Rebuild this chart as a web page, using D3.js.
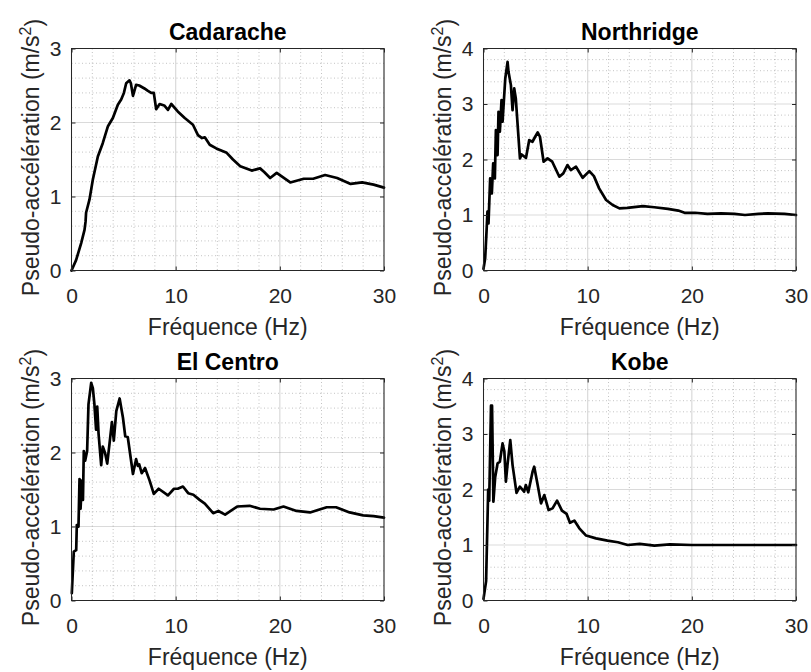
<!DOCTYPE html>
<html><head><meta charset="utf-8">
<script src="https://cdn.jsdelivr.net/npm/d3@7"></script>
<style>
body{margin:0;background:#fff}
svg{display:block}
text{font-family:"Liberation Sans",Arial,Helvetica,sans-serif}
</style>
</head><body>
<svg id="c" width="811" height="672"></svg>
<script>
// ---------- data ----------
const titles = ["Cadarache", "Northridge", "El Centro", "Kobe"];
const xTicks = [0, 10, 20, 30];
const yTicks3 = [0, 1, 2, 3];
const yTicks4 = [0, 1, 2, 3, 4];
const xLabelText = "Fréquence (Hz)";
const yLabelText = "Pseudo-accélération (m/s";
const yLabelSup = "2";

const cadaracheF = [0,0.44,0.93,1.25,1.35,1.4,1.73,2.05,2.53,3.0,3.5,3.97,4.45,4.77,5.03,5.25,5.57,5.7,5.9,6.2,6.5,7.0,7.3,7.65,7.9,8.13,8.46,8.9,9.26,9.58,10.2,10.87,11.66,12.14,12.53,12.8,13.27,13.9,14.9,15.5,16.2,17.3,18.1,18.5,19.07,19.7,21.0,22.3,23.2,24.35,25.5,26.8,27.9,29.0,30];
const cadaracheA = [0,0.14,0.37,0.55,0.66,0.78,0.96,1.23,1.54,1.72,1.95,2.06,2.24,2.31,2.40,2.53,2.57,2.53,2.36,2.51,2.50,2.46,2.43,2.40,2.40,2.18,2.25,2.23,2.17,2.25,2.15,2.06,1.97,1.83,1.79,1.80,1.70,1.65,1.59,1.50,1.41,1.35,1.38,1.33,1.25,1.32,1.19,1.24,1.24,1.29,1.25,1.17,1.19,1.16,1.12];

const northridgeF = [0,0.16,0.29,0.38,0.48,0.64,0.8,0.93,1.09,1.19,1.35,1.44,1.57,1.73,1.83,2.09,2.31,2.4,2.63,2.79,2.95,3.1,3.5,3.66,4.08,4.39,4.7,4.96,5.2,5.42,5.77,6.15,6.6,7.28,7.66,8.06,8.38,8.88,9.52,10.16,10.6,11.1,11.77,12.4,13.05,13.8,15.3,16.4,17.7,18.7,19.3,20.3,21.5,22.8,24.1,25.1,26.4,27.3,28.9,30];
const northridgeA = [0.03,0.22,0.70,1.06,0.85,1.66,1.39,1.93,1.66,2.53,2.08,2.86,2.50,3.07,2.68,3.46,3.76,3.58,3.34,2.89,3.28,3.10,2.02,2.09,2.03,2.35,2.32,2.41,2.49,2.41,1.96,2.02,1.96,1.69,1.75,1.90,1.81,1.87,1.67,1.79,1.70,1.48,1.27,1.18,1.12,1.13,1.16,1.14,1.11,1.08,1.04,1.04,1.02,1.03,1.02,1.00,1.02,1.03,1.02,1.00];

const elCentroF = [0.03,0.22,0.45,0.51,0.67,0.77,0.87,1.0,1.1,1.18,1.31,1.5,1.63,1.89,2.05,2.2,2.36,2.47,2.6,2.85,3.0,3.23,3.43,3.65,3.88,4.06,4.3,4.62,4.94,5.16,5.4,5.9,6.2,6.37,6.5,6.74,7.06,7.5,7.9,8.37,9.26,9.84,10.2,10.7,11.2,11.7,12.3,12.8,13.6,14.1,14.75,15.9,17.1,18.1,19.4,20.35,21.6,22.9,24.5,25.4,26.7,28.0,29.0,30];
const elCentroA = [0.10,0.66,0.68,1.02,1.00,1.64,1.24,1.62,1.36,2.02,1.89,2.02,2.65,2.94,2.87,2.65,2.31,2.62,2.25,1.83,2.08,1.99,1.85,2.12,2.41,2.16,2.56,2.73,2.47,2.22,2.21,1.71,1.91,1.82,1.84,1.72,1.79,1.62,1.44,1.51,1.42,1.51,1.51,1.54,1.45,1.43,1.36,1.31,1.18,1.21,1.16,1.27,1.28,1.24,1.23,1.27,1.21,1.19,1.26,1.26,1.19,1.15,1.14,1.12];

const kobeF = [0,0.25,0.45,0.55,0.72,0.82,0.95,1.12,1.35,1.57,1.83,2.0,2.15,2.3,2.57,2.79,3.17,3.49,3.9,4.06,4.3,4.71,4.87,5.2,5.52,5.84,6.25,6.63,7.06,7.53,7.98,8.3,8.72,9.2,9.85,10.8,11.9,12.9,13.85,15,16.4,17.9,20,22,25,28,30];
const kobeA = [0.03,0.35,2.0,1.8,3.51,3.51,1.78,2.22,2.47,2.50,2.83,2.69,2.14,2.44,2.89,2.44,1.94,2.05,1.96,2.08,1.95,2.32,2.41,2.08,1.75,1.90,1.63,1.66,1.80,1.62,1.56,1.40,1.44,1.30,1.17,1.12,1.08,1.05,1.00,1.02,0.99,1.01,1.00,1.00,1.00,1.00,1.00];

// ---------- layout ----------
const svg = d3.select("#c");
const pw = 312.5, ph = 222;
const lefts = [71.5, 483.5], tops = [48.5, 378.5];
const panels = [
  {title: titles[0], f: cadaracheF, a: cadaracheA, yt: yTicks3, col: 0, row: 0},
  {title: titles[1], f: northridgeF, a: northridgeA, yt: yTicks4, col: 1, row: 0},
  {title: titles[2], f: elCentroF, a: elCentroA, yt: yTicks3, col: 0, row: 1},
  {title: titles[3], f: kobeF, a: kobeA, yt: yTicks4, col: 1, row: 1}
];
const axisColor = "#262626";
const fmt = d3.format("d");

panels.forEach(p => {
  const L = lefts[p.col], T = tops[p.row];
  const g = svg.append("g").attr("transform", `translate(${L},${T})`);
  const x = d3.scaleLinear().domain([xTicks[0], xTicks[xTicks.length-1]]).range([0, pw]);
  const y = d3.scaleLinear().domain([p.yt[0], p.yt[p.yt.length-1]]).range([ph, 0]);
  const yMinorCount = (p.yt.length - 1) * 4;

  // minor grid
  g.append("g").selectAll("line").data(x.ticks(15).filter(v => !xTicks.includes(v)))
    .join("line").attr("x1", d => x(d)).attr("x2", d => x(d)).attr("y1", 0).attr("y2", ph)
    .attr("stroke", axisColor).attr("stroke-opacity", 0.35).attr("stroke-width", 0.8)
    .attr("stroke-dasharray", "1,2.5");
  g.append("g").selectAll("line").data(y.ticks(yMinorCount).filter(v => !p.yt.includes(v)))
    .join("line").attr("y1", d => y(d)).attr("y2", d => y(d)).attr("x1", 0).attr("x2", pw)
    .attr("stroke", axisColor).attr("stroke-opacity", 0.35).attr("stroke-width", 0.8)
    .attr("stroke-dasharray", "1,2.5");
  // major grid
  g.append("g").selectAll("line").data(xTicks)
    .join("line").attr("x1", d => x(d)).attr("x2", d => x(d)).attr("y1", 0).attr("y2", ph)
    .attr("stroke", axisColor).attr("stroke-opacity", 0.17).attr("stroke-width", 1.2);
  g.append("g").selectAll("line").data(p.yt)
    .join("line").attr("y1", d => y(d)).attr("y2", d => y(d)).attr("x1", 0).attr("x2", pw)
    .attr("stroke", axisColor).attr("stroke-opacity", 0.17).attr("stroke-width", 1.2);

  // data line
  const pts = p.f.map((f, i) => [f, p.a[i]]);
  g.append("path").datum(pts)
    .attr("d", d3.line().x(d => x(d[0])).y(d => y(d[1])))
    .attr("fill", "none").attr("stroke", "#000").attr("stroke-width", 2.7)
    .attr("stroke-linejoin", "round").attr("stroke-linecap", "round");

  // axes
  const styleAxis = sel => {
    sel.select(".domain").remove();
    sel.selectAll(".tick line").attr("stroke", axisColor);
    sel.selectAll(".tick text").attr("fill", axisColor).style("font-size", "21px")
      .style("font-family", '"Liberation Sans",Arial,Helvetica,sans-serif');
  };
  g.append("g").attr("transform", `translate(0,${ph})`)
    .call(d3.axisBottom(x).tickValues(xTicks).tickFormat(fmt).tickSizeInner(-4).tickSizeOuter(0).tickPadding(17.5))
    .call(styleAxis);
  g.append("g")
    .call(d3.axisTop(x).tickValues(xTicks).tickSizeInner(-4).tickSizeOuter(0).tickFormat(""))
    .call(styleAxis);
  g.append("g")
    .call(d3.axisLeft(y).tickValues(p.yt).tickFormat(fmt).tickSizeInner(-4).tickSizeOuter(0).tickPadding(10))
    .call(styleAxis);
  g.append("g").attr("transform", `translate(${pw},0)`)
    .call(d3.axisRight(y).tickValues(p.yt).tickSizeInner(-4).tickSizeOuter(0).tickFormat(""))
    .call(styleAxis);

  // box
  g.append("rect").attr("x", 0).attr("y", 0).attr("width", pw).attr("height", ph)
    .attr("fill", "none").attr("stroke", axisColor).attr("stroke-width", 1);

  // title
  g.append("text").attr("x", pw / 2).attr("y", -8.5).attr("text-anchor", "middle")
    .style("font-size", "23px").style("font-weight", "bold").attr("fill", "#000")
    .text(p.title);

  // x label
  g.append("text").attr("x", pw / 2).attr("y", ph + 64.3).attr("text-anchor", "middle")
    .style("font-size", "23px").attr("fill", axisColor).text(xLabelText);

  // y label
  const yl = g.append("text")
    .attr("transform", `translate(${-33},${ph / 2 - 2}) rotate(-90)`)
    .attr("text-anchor", "middle").style("font-size", "23px").attr("fill", axisColor);
  yl.append("tspan").text(yLabelText);
  yl.append("tspan").attr("dy", "-0.45em").style("font-size", "16px").text(yLabelSup);
  yl.append("tspan").attr("dy", "0.45em").text(")");
});
</script>
</body></html>
